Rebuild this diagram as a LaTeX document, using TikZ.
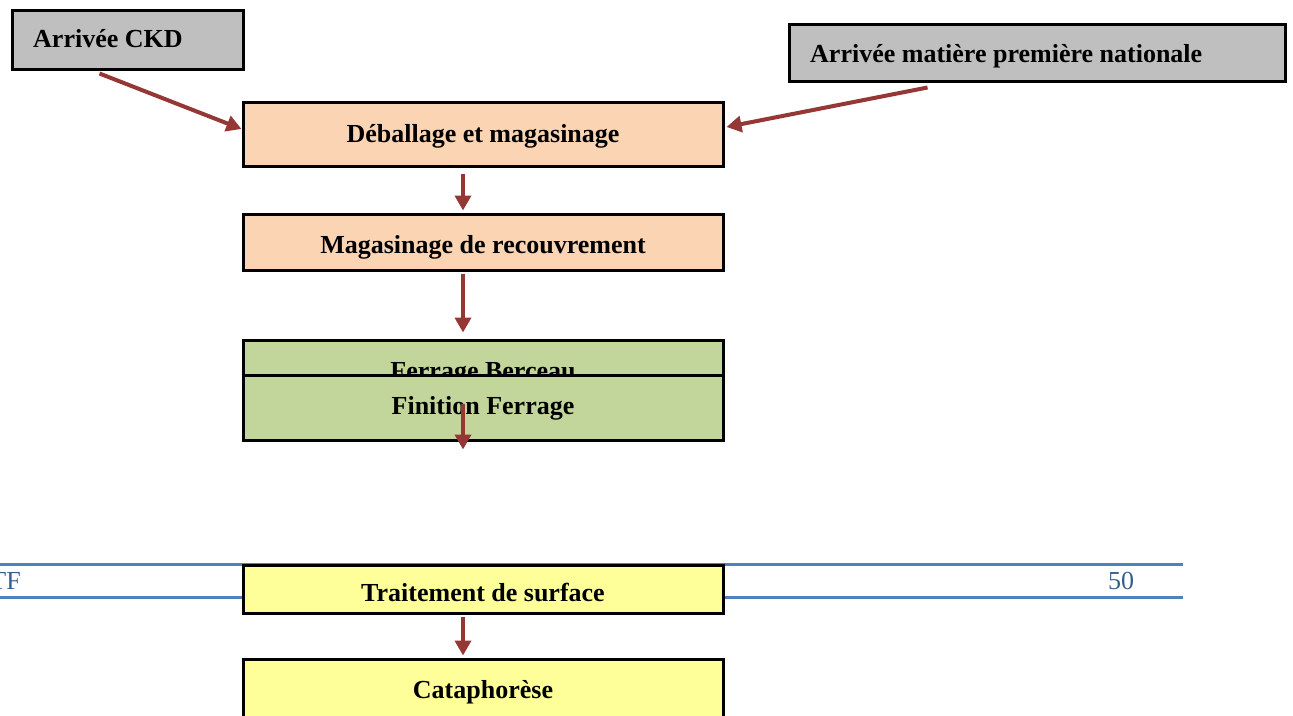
\documentclass[tikz,border=0pt]{standalone}
\usepackage{fontspec}
\setmainfont{Liberation Serif}
\usetikzlibrary{arrows.meta,calc}
\definecolor{boxgray}{HTML}{BFBFBF}
\definecolor{peach}{HTML}{FBD4B4}
\definecolor{sage}{HTML}{C2D69B}
\definecolor{paleyellow}{HTML}{FFFF99}
\definecolor{arrowred}{HTML}{953735}
\definecolor{rule}{HTML}{4F81BD}
\definecolor{footblue}{HTML}{365F91}
\begin{document}
\begin{tikzpicture}[x=1pt,y=-1pt,
  box/.style={draw=black, line width=3pt, inner sep=0pt, minimum width=480pt,
    text depth=0pt, font=\fontsize{26}{30}\selectfont\bfseries},
  srcbox/.style={draw=black, line width=3pt, inner sep=0pt, fill=boxgray},
  label/.style={inner sep=0pt, font=\fontsize{26}{30}\selectfont\bfseries},
  flow/.style={draw=arrowred, line width=4pt, -{Triangle[length=15pt,width=16pt]}},
  footline/.style={draw=rule, line width=3pt},
  foottext/.style={inner sep=0pt, text=footblue, font=\fontsize{26}{30}\selectfont}]
\useasboundingbox (0,0) rectangle (1293,715);
\clip (0,0) rectangle (1293,715);

% incoming supplies
\node[srcbox, minimum width=231pt, minimum height=59pt] (ckd) at (127.5,39.5) {};
\node[label, anchor=west] (ckdtxt) at (33,39) {Arrivée CKD};
\node[srcbox, minimum width=496pt, minimum height=57pt] (nat) at (1037,52.5) {};
\node[label, anchor=west] (nattxt) at (810,56) {Arrivée matière première nationale};

% page footer rules
\draw[footline] (0,564) -- (1183,564);
\draw[footline] (0,597) -- (1183,597);
\node[foottext, anchor=east] (tf) at (21,581) {TF};
\node[foottext] (page) at (1121,581) {50};

% process steps
\node[box, fill=peach, text height=16pt, minimum height=64pt] (deb) at (483,134) {Déballage et magasinage};
\node[box, fill=peach, text height=22pt, minimum height=56pt] (mag) at (483,242) {Magasinage de recouvrement};
\node[box, fill=sage, text height=22pt, minimum height=56pt] (fer) at (483,368) {Ferrage Berceau};
\node[box, fill=sage, text height=14pt, minimum height=65pt] (fin) at (483,407.5) {Finition Ferrage};
\node[box, fill=paleyellow, text height=24pt, minimum height=48pt] (trait) at (483,589) {Traitement de surface};
\node[box, fill=paleyellow, text height=20pt, minimum height=58pt] (cata) at (483,688) {Cataphorèse};

% connectors
\draw[flow] ($(ckd.south west)+(89,3)$) -- ($(deb.west)+(0,-5)$);
\draw[flow] ($(nat.south west)+(140,5)$) -- ($(deb.east)+(2,-7)$);
\draw[flow] ($(deb.south)+(-20,6)$) -- ($(mag.north)+(-20,-2)$);
\draw[flow] ($(mag.south)+(-20,2)$) -- ($(fer.north)+(-20,-6)$);
\coordinate (finout) at ($(fin.south)+(-20,8)$);
\draw[flow] ($(fin.center)+(-20,-3.5)$) -- (finout);
\draw[flow] ($(trait.south)+(-20,2)$) -- ($(cata.north)+(-20,-2)$);
\end{tikzpicture}
\end{document}
